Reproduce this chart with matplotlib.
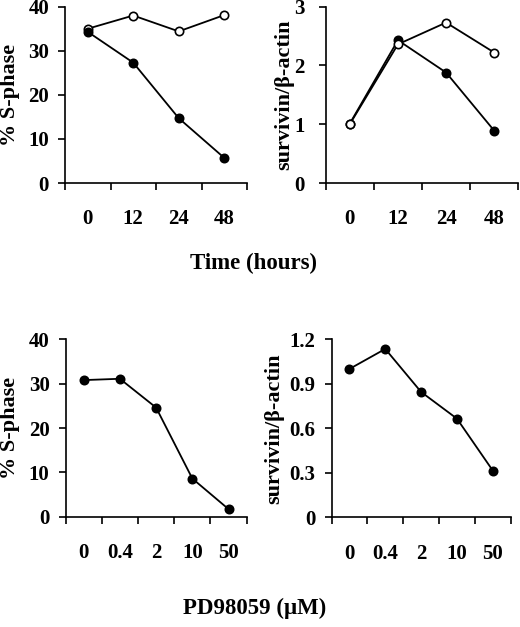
import matplotlib
matplotlib.use('Agg')
import matplotlib.pyplot as plt
from matplotlib.ticker import FixedLocator, NullFormatter

plt.rcParams['font.family'] = ['Liberation Serif', 'DejaVu Serif']
plt.rcParams['font.weight'] = 'bold'

W, H = 520, 627

# ── data ───────────────────────────────────────────────────────────
time_labels   = ['0', '12', '24', '48']
sphase_open   = [35.0, 38.0, 34.4, 38.1]
sphase_filled = [34.3, 27.3, 14.7, 5.7]
surv_open     = [1.0, 2.36, 2.73, 2.22]
surv_filled   = [1.01, 2.43, 1.88, 0.89]

dose_labels   = ['0', '0.4', '2', '10', '50']
dose_sphase   = [30.8, 31.1, 24.6, 8.6, 1.7]
dose_surv     = [1.0, 1.135, 0.845, 0.665, 0.315]

FS = 15


def px_axes(fig, x0, x1, y0, y1):
    return fig.add_axes([x0 / W, 1 - y1 / H, (x1 - x0) / W, (y1 - y0) / H])


def style(ax, labels, yticks, ytl, ylabel, ypad, ylab_right):
    n = len(labels)
    ax.set_xlim(-0.5, n - 0.5)
    ax.set_ylim(yticks[0], yticks[-1])
    ax.xaxis.set_major_locator(FixedLocator([i - 0.5 for i in range(n + 1)]))
    ax.xaxis.set_major_formatter(NullFormatter())
    ax.xaxis.set_minor_locator(FixedLocator(list(range(n))))
    ax.set_xticklabels(labels, minor=True)
    ax.tick_params(axis='x', which='major', direction='out', length=5, width=1.2)
    ax.tick_params(axis='x', which='minor', length=0, pad=19, labelsize=FS)
    ax.set_yticks(yticks)
    ax.set_yticklabels(ytl)
    ax.tick_params(axis='y', direction='out', length=5, width=1.2,
                   pad=ypad, labelsize=FS)
    for s in ('top', 'right'):
        ax.spines[s].set_visible(False)
    for s in ('left', 'bottom'):
        ax.spines[s].set_linewidth(1.2)
    ax.set_ylabel(ylabel, fontsize=16, fontweight='bold')
    # label anchor is its right edge once rotated
    x0 = ax.get_position().x0 * W
    w = ax.get_position().width * W
    ax.yaxis.set_label_coords((ylab_right - x0) / w, 0.5)
    ax.set_facecolor('none')


fig = plt.figure(figsize=(W / 100, H / 100), dpi=100)

line_kw = dict(color='black', linewidth=1.3, markersize=6, markeredgewidth=1.2,
               markeredgecolor='black')

# top-left: % S-phase vs time
ax1 = px_axes(fig, 65, 247, 6.7, 183)
x = range(len(time_labels))
ax1.plot(x, sphase_open, marker='o', markerfacecolor='white', zorder=3, **line_kw)
ax1.plot(x, sphase_filled, marker='o', markerfacecolor='black', zorder=4, **line_kw)
style(ax1, time_labels, [0, 10, 20, 30, 40], ['0', '10', '20', '30', '40'],
      '% S-phase', 6.5, 20.5)

# top-right: survivin vs time
ax2 = px_axes(fig, 325.7, 518.3, 6.7, 183)
ax2.plot(x, surv_filled, marker='o', markerfacecolor='black', zorder=3, **line_kw)
ax2.plot(x, surv_open, marker='o', markerfacecolor='white', zorder=4, **line_kw)
style(ax2, time_labels, [0, 1, 2, 3], ['0', '1', '2', '3'],
      'survivin/β-actin', 10, 294)

# bottom-left: % S-phase vs dose
ax3 = px_axes(fig, 65.5, 246.7, 339.3, 516.7)
xd = range(len(dose_labels))
ax3.plot(xd, dose_sphase, marker='o', markerfacecolor='black', **line_kw)
style(ax3, dose_labels, [0, 10, 20, 30, 40], ['0', '10', '20', '30', '40'],
      '% S-phase', 6.5, 20.5)

# bottom-right: survivin vs dose
ax4 = px_axes(fig, 331.5, 510.7, 339.3, 517.3)
ax4.plot(xd, dose_surv, marker='o', markerfacecolor='black', **line_kw)
style(ax4, dose_labels, [0, 0.3, 0.6, 0.9, 1.2], ['0', '0.3', '0.6', '0.9', '1.2'],
      'survivin/β-actin', 6.5, 284)

fig.text(254 / W, 1 - 263 / H, 'Time (hours)', ha='center', va='center',
         fontsize=16.5, fontweight='bold')
fig.text(255 / W, 1 - 608 / H, 'PD98059 (μM)', ha='center', va='center',
         fontsize=16.5, fontweight='bold')

fig.savefig('out.png', dpi=100, facecolor='white')
